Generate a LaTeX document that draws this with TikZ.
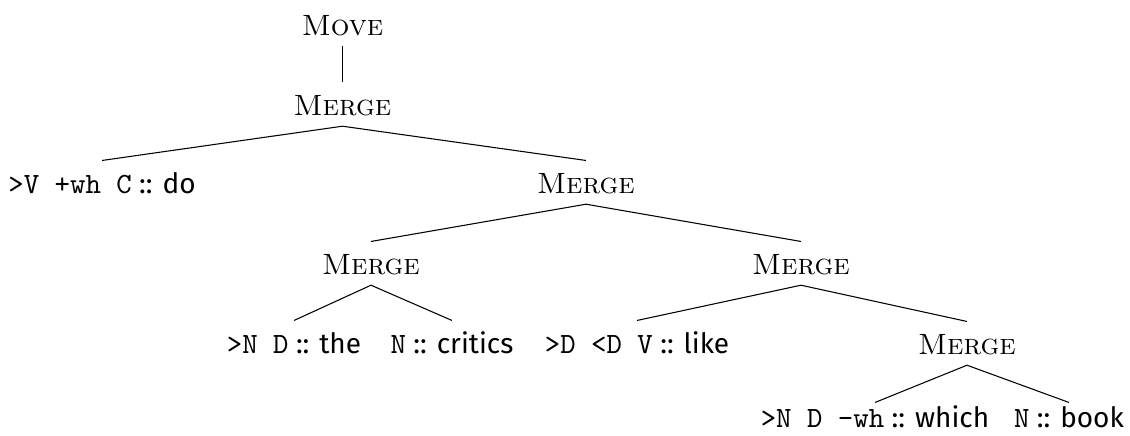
\documentclass[tikz,border=0pt]{standalone}
\usepackage{fontspec}
\setsansfont{Fira Sans}
\setmonofont{Latin Modern Mono}[Scale=1.05]
\begin{document}
\begin{tikzpicture}[x=0.375pt,y=-0.375pt,
  lab/.style={inner sep=0pt, anchor=base, text height=12pt, text depth=4pt},
  op/.style={lab, font=\fontsize{11}{13}\selectfont\scshape},
  leaf/.style={lab, font=\fontsize{10.5}{13}\selectfont\sffamily},
  low/.style={text height=9pt},
  br/.style={line width=0.4pt}]
\useasboundingbox (0,0) rectangle (1130,436);
% operations
\node[op] (move) at (342.5,35) {Move};
\node[op] (m1) at (342.5,115) {Merge};
\node[op] (m2) at (586,193) {Merge};
\node[op] (m3) at (371,274) {Merge};
\node[op] (m4) at (801,274) {Merge};
\node[op] (m5) at (967,354) {Merge};
% leaves
\node[leaf] (do) at (102,193) {\texttt{>V +wh C} :: do};
\node[leaf] (the) at (294,353) {\texttt{>N D} :: the};
\node[leaf] (critics) at (452,353) {\texttt{N} :: critics};
\node[leaf] (like) at (637,353) {\texttt{>D <D V} :: like};
\node[leaf,low] (which) at (875,427) {\texttt{>N D -wh} :: which};
\node[leaf,low] (book) at (1069,427) {\texttt{N} :: book};
% branches
\draw[br] (move.south) -- (m1.north);
\draw[br] (m1.south) -- (do.north);
\draw[br] (m1.south) -- (m2.north);
\draw[br] (m2.south) -- (m3.north);
\draw[br] (m2.south) -- (m4.north);
\draw[br] (m3.south) -- (the.north);
\draw[br] (m3.south) -- (critics.north);
\draw[br] (m4.south) -- (like.north);
\draw[br] (m4.south) -- (m5.north);
\draw[br] (m5.south) -- (which.north);
\draw[br] (m5.south) -- (book.north);
\end{tikzpicture}
\end{document}
